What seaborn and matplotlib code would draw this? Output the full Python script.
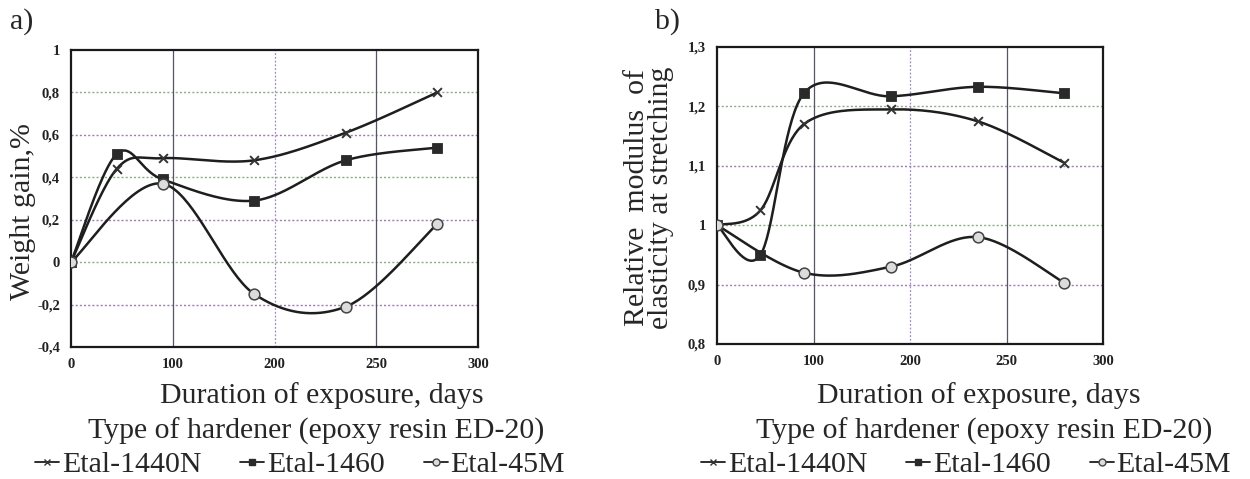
import numpy as np
import matplotlib
matplotlib.use("Agg")
import matplotlib.pyplot as plt
import seaborn as sns
import pandas as pd
from matplotlib.lines import Line2D

# ---------------- data ----------------
days = [0, 45, 90, 180, 270, 360]
days_45m = [0, 90, 180, 270, 360]

gain_1440n = [0.0, 0.44, 0.49, 0.48, 0.61, 0.80]
gain_1460 = [0.0, 0.51, 0.39, 0.29, 0.48, 0.54]
gain_45m = [0.0, 0.37, -0.15, -0.21, 0.18]

mod_1440n = [1.0, 1.025, 1.17, 1.195, 1.175, 1.105]
mod_1460 = [1.0, 0.95, 1.222, 1.217, 1.233, 1.222]
mod_45m = [1.0, 0.92, 0.93, 0.98, 0.903]

series_names = ["Etal-1440N", "Etal-1460", "Etal-45M"]
x_tick_pos = [0, 100, 200, 300, 400]
x_tick_labels = ["0", "100", "200", "250", "300"]
gain_ticks = [-0.4, -0.2, 0, 0.2, 0.4, 0.6, 0.8, 1]
mod_ticks = [0.8, 0.9, 1.0, 1.1, 1.2, 1.3]

# ---------------- style ----------------
sns.set_theme(style="white")
plt.rcParams["font.family"] = ["Liberation Serif", "DejaVu Serif"]

LINE = "#1e1e1e"
markers = {"Etal-1440N": dict(marker="x", s=40, color="#333333", linewidths=1.4),
           "Etal-1460": dict(marker="s", s=55, color="#2a2a2a", edgecolor="#2a2a2a"),
           "Etal-45M": dict(marker="o", s=60, color="#dcdcdc", edgecolor="#444444", linewidths=1.1)}


def catmull_rom(x, y, xr, yr, n=40):
    """Smooth rendering path through the data points (Excel-like smoothing)."""
    px = (np.asarray(x, float)) / xr
    py = (np.asarray(y, float)) / yr
    P = np.column_stack([px, py])
    P = np.vstack([P[0], P, P[-1]])
    out = []
    t = np.linspace(0, 1, n)[:, None]
    for i in range(1, len(P) - 2):
        p0, p1, p2, p3 = P[i - 1], P[i], P[i + 1], P[i + 2]
        seg = 0.5 * ((2 * p1) + (-p0 + p2) * t + (2 * p0 - 5 * p1 + 4 * p2 - p3) * t ** 2
                     + (-p0 + 3 * p1 - 3 * p2 + p3) * t ** 3)
        out.append(seg if i == 1 else seg[1:])
    out = np.vstack(out)
    return out[:, 0] * xr, out[:, 1] * yr


def fmt(v):
    return ("%g" % v).replace(".", ",")


W, H = 1250, 479
fig = plt.figure(figsize=(W / 100, H / 100), dpi=100)
fig.patch.set_facecolor("white")

ax1 = fig.add_axes([71 / W, 1 - 347 / H, (478 - 71) / W, (347 - 50) / H])
ax2 = fig.add_axes([717 / W, 1 - 344 / H, (1103 - 717) / W, (344 - 47) / H])


def draw(ax, data, ylim, yticks):
    xr = 400.0
    yr = ylim[1] - ylim[0]
    for name, (xs, ys) in data.items():
        cx, cy = catmull_rom(xs, ys, xr, yr)
        curve = pd.DataFrame({"x": cx, "y": cy})
        sns.lineplot(data=curve, x="x", y="y", sort=False, estimator=None,
                     color=LINE, lw=1.8, ax=ax, zorder=3)
        pts = pd.DataFrame({"x": xs, "y": ys})
        sns.scatterplot(data=pts, x="x", y="y", ax=ax, zorder=4, **markers[name])
    ax.set_xlim(0, 400)
    ax.set_ylim(*ylim)
    ax.set_xticks(x_tick_pos)
    ax.set_xticklabels(x_tick_labels)
    ax.set_yticks(yticks)
    ax.set_yticklabels([fmt(v) for v in yticks])
    ax.tick_params(axis="both", length=0, labelsize=10.5, pad=8, colors="#222222")
    for lab in ax.get_xticklabels() + ax.get_yticklabels():
        lab.set_fontweight("bold")
    ax.grid(False)
    hcols = ["#9b7fb0", "#8faa8a"]
    for i, v in enumerate(yticks[1:-1]):
        ax.axhline(v, color=hcols[i % 2], lw=1.0, ls=(0, (1.5, 1.5)), zorder=1)
    for v in x_tick_pos[1:-1]:
        if v == 200:
            ax.axvline(v, color="#a08ac0", lw=0.9, ls=(0, (1.5, 1.5)), zorder=1)
        else:
            ax.axvline(v, color="#555566", lw=0.9, zorder=1)
    for sp in ax.spines.values():
        sp.set_visible(True)
        sp.set_color("#1a1a1a")
        sp.set_linewidth(1.6)
    ax.set_xlabel("")
    ax.set_ylabel("")


draw(ax1, {"Etal-1440N": (days, gain_1440n),
           "Etal-1460": (days, gain_1460),
           "Etal-45M": (days_45m, gain_45m)}, (-0.4, 1.0), gain_ticks)
draw(ax2, {"Etal-1440N": (days, mod_1440n),
           "Etal-1460": (days, mod_1460),
           "Etal-45M": (days_45m, mod_45m)}, (0.8, 1.3), mod_ticks)

FS = 21.5
fig.text(23 / W, 1 - 212 / H, "Weight gain,%", fontsize=FS, rotation=90,
         ha="center", va="center")
fig.text(649 / W, 1 - 198 / H, "Relative  modulus  of\nelasticity at stretching",
         fontsize=FS, rotation=90, ha="center", va="center", linespacing=0.88)

fig.text(10 / W, 1 - 22 / H, "a)", fontsize=FS, va="center", ha="left")
fig.text(655 / W, 1 - 22 / H, "b)", fontsize=FS, va="center", ha="left")

for cx_xl, cx_ht in [(322, 316), (979, 984)]:
    fig.text(cx_xl / W, 1 - 396 / H, "Duration of exposure, days", fontsize=FS, ha="center", va="center")
    fig.text(cx_ht / W, 1 - 431 / H, "Type of hardener (epoxy resin ED-20)", fontsize=FS, ha="center", va="center")

handles = [Line2D([0], [0], color=LINE, lw=1.3, marker="x", ms=5, mec="#333333"),
           Line2D([0], [0], color=LINE, lw=1.3, marker="s", ms=5, mfc="#2a2a2a", mec="#2a2a2a"),
           Line2D([0], [0], color=LINE, lw=1.3, marker="o", ms=5, mfc="#dcdcdc", mec="#444444")]
for cx_lg in (300, 966):
    fig.legend(handles, series_names, loc="center", bbox_to_anchor=(cx_lg / W, 1 - 465 / H),
               ncol=3, frameon=False, fontsize=FS, handlelength=0.8, handletextpad=0.1,
               columnspacing=1.3, borderpad=0, borderaxespad=0)

fig.savefig("out.png", dpi=100, facecolor="white")
